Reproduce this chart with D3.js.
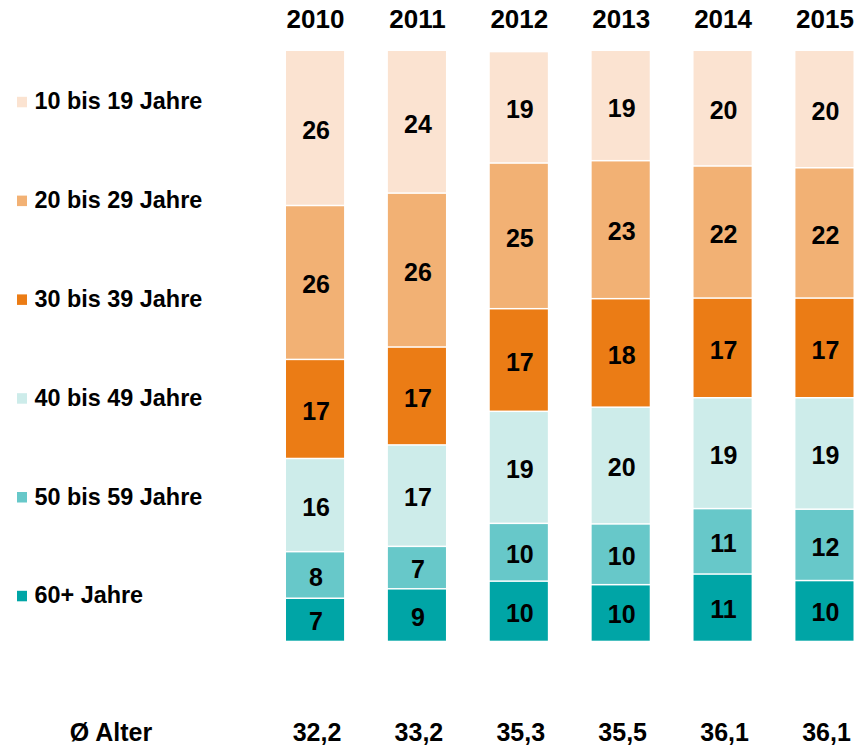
<!DOCTYPE html>
<html>
<head>
<meta charset="utf-8">
<script src="https://cdn.jsdelivr.net/npm/d3@7"></script>
<style>
  html, body { margin: 0; padding: 0; background: #fff; }
  svg { display: block; font-family: "Liberation Sans", Arial, sans-serif; font-weight: bold; }
</style>
</head>
<body>
<svg id="chart" width="865" height="746"></svg>
<script>
const years = ["2010", "2011", "2012", "2013", "2014", "2015"];
const groups = ["10 bis 19 Jahre", "20 bis 29 Jahre", "30 bis 39 Jahre", "40 bis 49 Jahre", "50 bis 59 Jahre", "60+ Jahre"];
const colors = ["#FBE3D1", "#F2B174", "#EB7C15", "#CDECEA", "#67C8C9", "#00A5A6"];
// shares in percent, per age group (labels are rounded)
const age10_19 = [26.2, 24.1, 18.9, 18.6, 19.5, 19.8];
const age20_29 = [26.1, 26.1, 24.7, 23.4, 22.4, 22.1];
const age30_39 = [16.8, 16.6, 17.4, 18.4, 16.9, 16.9];
const age40_49 = [15.8, 17.2, 19.0, 19.8, 18.8, 18.9];
const age50_59 = [7.9, 7.2, 9.8, 10.3, 11.1, 12.1];
const age60plus = [7.2, 8.8, 10.1, 9.5, 11.3, 10.2];
const avgAge = ["32,2", "33,2", "35,3", "35,5", "36,1", "36,1"];
const avgLabel = "Ø Alter";

const seriesValues = [age10_19, age20_29, age30_39, age40_49, age50_59, age60plus];

const table = years.map((y, i) => {
  const row = { year: y };
  groups.forEach((g, k) => { row[g] = seriesValues[k][i]; });
  return row;
});

const svg = d3.select("#chart");

const x = d3.scaleBand().domain(years).range([286, 853.5]).paddingInner(0.43).paddingOuter(0);
const y = d3.scaleLinear().domain([0, 100]).range([640.7, 51]);

// stack from bottom (60+) to top (10-19)
const stackKeys = groups.slice().reverse();
const stacked = d3.stack().keys(stackKeys)(table);
const colorOf = d3.scaleOrdinal().domain(groups).range(colors);

const gap = 1.5;
const layers = svg.append("g").selectAll("g")
  .data(stacked).join("g")
  .attr("fill", d => colorOf(d.key));

layers.selectAll("rect")
  .data(d => d)
  .join("rect")
  .attr("x", d => x(d.data.year))
  .attr("width", x.bandwidth())
  .attr("y", d => y(d[1]) + (d[1] >= 99.95 ? 0 : gap / 2))
  .attr("height", d => {
    const top = y(d[1]) + (d[1] >= 99.95 ? 0 : gap / 2);
    const bot = y(d[0]) - (d[0] <= 0.05 ? 0 : gap / 2);
    return Math.max(0, bot - top);
  });

layers.selectAll("text")
  .data(d => d)
  .join("text")
  .attr("x", d => x(d.data.year) + x.bandwidth() / 2 + 1)
  .attr("y", d => (y(d[0]) + y(d[1])) / 2 + 2)
  .attr("dy", "0.35em")
  .attr("text-anchor", "middle")
  .attr("font-size", 25)
  .attr("fill", "#000")
  .text(d => Math.round(d[1] - d[0]));

// year headers
svg.append("g").selectAll("text")
  .data(years).join("text")
  .attr("x", d => x(d) + x.bandwidth() / 2 + 0.5)
  .attr("y", 28.3)
  .attr("text-anchor", "middle")
  .attr("font-size", 26)
  .attr("fill", "#000")
  .text(d => d);

// average age row
svg.append("g").selectAll("text")
  .data(avgAge).join("text")
  .attr("x", (d, i) => x(years[i]) + x.bandwidth() / 2 + 2)
  .attr("y", 741)
  .attr("text-anchor", "middle")
  .attr("font-size", 25)
  .attr("fill", "#000")
  .text(d => d);

svg.append("text")
  .attr("x", 111)
  .attr("y", 741)
  .attr("text-anchor", "middle")
  .attr("font-size", 25)
  .attr("fill", "#000")
  .text(avgLabel);

// legend
const legendY = d3.scalePoint().domain(groups).range([109.3, 603.3]);
const leg = svg.append("g").selectAll("g")
  .data(groups).join("g")
  .attr("transform", d => `translate(0,${legendY(d)})`);
leg.append("rect")
  .attr("x", 17).attr("y", -12.5).attr("width", 10).attr("height", 10.5)
  .attr("fill", d => colorOf(d));
leg.append("text")
  .attr("x", 34.5).attr("y", 0)
  .attr("font-size", 23.4)
  .attr("fill", "#000")
  .text(d => d);
</script>
</body>
</html>
